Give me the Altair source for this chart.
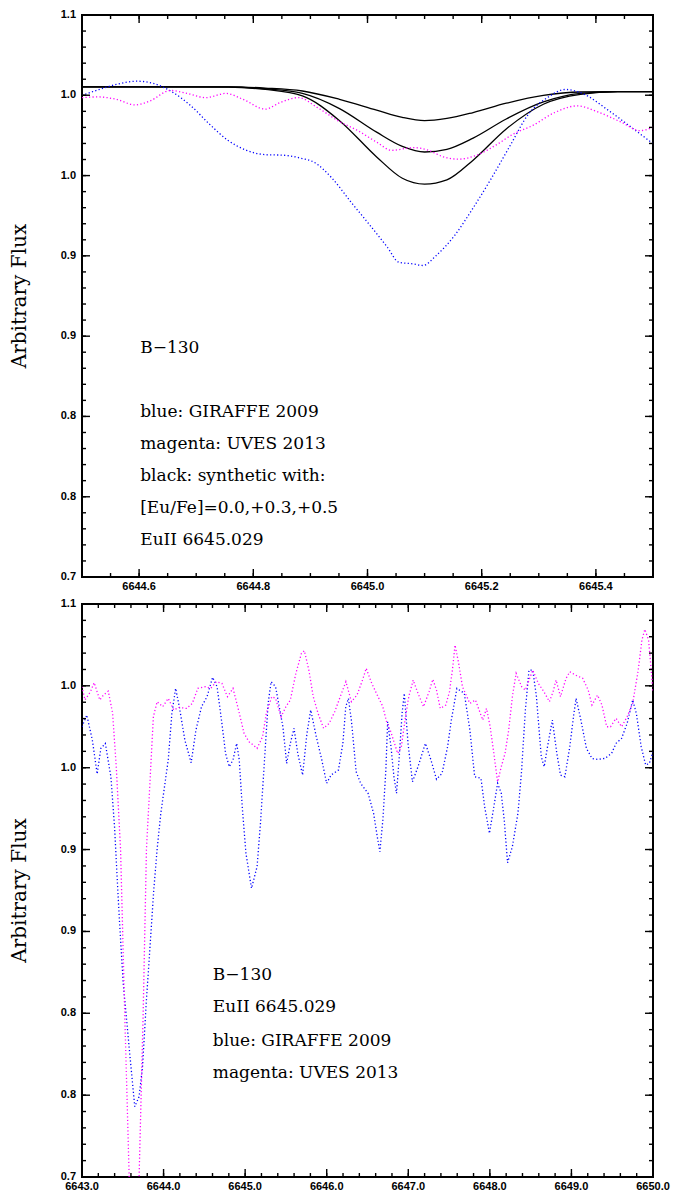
import altair as alt
import pandas as pd

# ---------------- top panel (zoom on Eu II 6645) ----------------
TOP_X_DOMAIN = [6644.5, 6645.5]
TOP_X_MAJOR = [6644.6, 6644.8, 6645.0, 6645.2, 6645.4]
TOP_X_LABELS = ["6644.6", "6644.8", "6645.0", "6645.2", "6645.4"]
TOP_X_MINOR = [round(6644.5 + i * 0.05, 3) for i in range(21)]

TOP_BLUE_W = [6644.500, 6644.534, 6644.560, 6644.596, 6644.625, 6644.658, 6644.691, 6644.723,
              6644.756, 6644.788, 6644.821, 6644.853, 6644.886, 6644.905, 6644.938, 6644.970,
              6645.003, 6645.035, 6645.055, 6645.081, 6645.097, 6645.120, 6645.152, 6645.185,
              6645.217, 6645.250, 6645.282, 6645.315, 6645.347, 6645.380, 6645.419, 6645.458,
              6645.500]
TOP_BLUE_F = [1.0428, 1.0475, 1.0506, 1.0529, 1.0513, 1.0452, 1.0353, 1.0224,
              1.0107, 1.0037, 1.0006, 1.0002, 0.9978, 0.9955, 0.9838, 0.9674,
              0.9510, 0.9346, 0.9240, 0.9228, 0.9217, 0.9287, 0.9428, 0.9627,
              0.9838, 1.0072, 1.0295, 1.0412, 1.0470, 1.0435, 1.0330, 1.0213,
              1.0084]

TOP_MAG_W = [6644.500, 6644.528, 6644.560, 6644.593, 6644.619, 6644.655, 6644.684, 6644.717,
             6644.752, 6644.782, 6644.821, 6644.847, 6644.879, 6644.912, 6644.951, 6644.983,
             6645.016, 6645.042, 6645.081, 6645.107, 6645.133, 6645.159, 6645.191, 6645.224,
             6645.256, 6645.289, 6645.328, 6645.367, 6645.406, 6645.445, 6645.477, 6645.500]
TOP_MAG_F = [1.0412, 1.0417, 1.0400, 1.0360, 1.0388, 1.0463, 1.0442, 1.0412,
             1.0442, 1.0400, 1.0330, 1.0377, 1.0412, 1.0342, 1.0241, 1.0177,
             1.0095, 1.0037, 1.0056, 1.0037, 0.9990, 0.9974, 1.0002, 1.0072,
             1.0154, 1.0213, 1.0306, 1.0353, 1.0306, 1.0236, 1.0177, 1.0201]

SYN_W = [6644.500, 6644.756, 6644.821, 6644.886, 6644.951, 6645.016, 6645.061, 6645.100,
         6645.139, 6645.185, 6645.243, 6645.308, 6645.373, 6645.438, 6645.500]
SYN_00 = [1.0489, 1.0489, 1.0480, 1.0459, 1.0400, 1.0323, 1.0271, 1.0248,
          1.0264, 1.0306, 1.0372, 1.0428, 1.0452, 1.0454, 1.0454]
SYN_03 = [1.0489, 1.0489, 1.0475, 1.0442, 1.0334, 1.0166, 1.0065, 1.0025,
          1.0044, 1.0124, 1.0260, 1.0381, 1.0442, 1.0454, 1.0454]
SYN_05 = [1.0489, 1.0487, 1.0470, 1.0424, 1.0248, 0.9990, 0.9838, 0.9796,
          0.9826, 0.9967, 1.0189, 1.0365, 1.0435, 1.0454, 1.0454]
SYN_NAMES = ["+0.0", "+0.3", "+0.5"]

TOP_NOTES = ["B\u2212130", "blue: GIRAFFE 2009", "magenta: UVES 2013",
             "black: synthetic with:", "[Eu/Fe]=0.0,+0.3,+0.5", "EuII 6645.029"]
TOP_NOTE_Y = [0.8631, 0.8174, 0.7947, 0.7720, 0.7490, 0.7260]
TOP_NOTE_X = 6644.602

# ---------------- bottom panel (wide range) ----------------
BOT_X_DOMAIN = [6643.0, 6650.0]
BOT_X_MAJOR = [6643.0, 6644.0, 6645.0, 6646.0, 6647.0, 6648.0, 6649.0, 6650.0]
BOT_X_LABELS = ["6643.0", "6644.0", "6645.0", "6646.0", "6647.0", "6648.0", "6649.0", "6650.0"]
BOT_X_MINOR = [round(6643.0 + i * 0.2, 2) for i in range(36)]

BOT_BLUE_W = [6643.000, 6643.059, 6643.127, 6643.186, 6643.231, 6643.286, 6643.354, 6643.399,
              6643.456, 6643.505, 6643.566, 6643.619, 6643.647, 6643.700, 6643.742, 6643.790,
              6643.831, 6643.880, 6643.920, 6643.966, 6644.057, 6644.102, 6644.148, 6644.193,
              6644.261, 6644.338, 6644.397, 6644.465, 6644.533, 6644.601, 6644.656, 6644.715,
              6644.760, 6644.805, 6644.851, 6644.896, 6644.928, 6644.964, 6645.010, 6645.078,
              6645.146, 6645.191, 6645.237, 6645.282, 6645.318, 6645.373, 6645.418, 6645.463,
              6645.509, 6645.554, 6645.599, 6645.645, 6645.704, 6645.758, 6645.804, 6645.872,
              6645.940, 6645.999, 6646.053, 6646.144, 6646.198, 6646.234, 6646.266, 6646.302,
              6646.361, 6646.416, 6646.507, 6646.575, 6646.620, 6646.652, 6646.688, 6646.725,
              6646.747, 6646.788, 6646.824, 6646.856, 6646.892, 6646.924, 6646.951, 6646.997,
              6647.051, 6647.119, 6647.210, 6647.278, 6647.346, 6647.414, 6647.482, 6647.528,
              6647.596, 6647.687, 6647.755, 6647.814, 6647.891, 6647.936, 6647.995, 6648.049,
              6648.095, 6648.140, 6648.176, 6648.217, 6648.276, 6648.344, 6648.390, 6648.435,
              6648.480, 6648.526, 6648.571, 6648.630, 6648.666, 6648.707, 6648.766, 6648.821,
              6648.866, 6648.920, 6648.980, 6649.025, 6649.057, 6649.116, 6649.184, 6649.252,
              6649.320, 6649.411, 6649.492, 6649.547, 6649.615, 6649.683, 6649.751, 6649.796,
              6649.855, 6649.910, 6649.955, 6650.000]
BOT_BLUE_F = [1.0143, 1.0225, 1.0050, 0.9813, 0.9992, 1.0027, 0.9794, 0.9445,
              0.8817, 0.8354, 0.7979, 0.7656, 0.7491, 0.7561, 0.7770, 0.8236,
              0.8585, 0.9003, 0.9283, 0.9538, 0.9911, 1.0236, 1.0411, 1.0283,
              1.0050, 0.9892, 1.0120, 1.0283, 1.0353, 1.0488, 1.0423, 1.0167,
              0.9957, 0.9864, 0.9911, 1.0027, 0.9911, 0.9585, 0.9259, 0.9015,
              0.9166, 0.9492, 0.9911, 1.0306, 1.0458, 1.0423, 1.0283, 1.0143,
              0.9887, 1.0027, 1.0132, 0.9957, 0.9806, 1.0097, 1.0260, 1.0074,
              0.9911, 0.9748, 0.9806, 0.9841, 1.0027, 1.0283, 1.0341, 1.0190,
              0.9829, 0.9748, 0.9678, 0.9538, 0.9375, 0.9271, 0.9492, 0.9841,
              1.0178, 1.0004, 0.9794, 0.9678, 0.9957, 1.0236, 1.0376, 1.0027,
              0.9759, 0.9864, 1.0027, 0.9911, 0.9776, 0.9818, 1.0004, 1.0190,
              1.0411, 1.0376, 1.0120, 0.9794, 0.9783, 0.9585, 0.9399, 0.9585,
              0.9748, 0.9678, 0.9492, 0.9194, 0.9306, 0.9538, 0.9841, 1.0260,
              1.0539, 1.0539, 1.0353, 0.9934, 0.9864, 1.0004, 1.0190, 0.9957,
              0.9806, 0.9794, 1.0004, 1.0213, 1.0341, 1.0190, 0.9992, 0.9922,
              0.9915, 0.9922, 0.9957, 1.0027, 1.0062, 1.0167, 1.0330, 1.0236,
              1.0004, 0.9876, 0.9887, 0.9969]

BOT_MAG_W = [6643.000, 6643.036, 6643.104, 6643.149, 6643.218, 6643.263, 6643.322, 6643.376,
             6643.422, 6643.473, 6643.525, 6643.578, 6643.640, 6643.700, 6643.749, 6643.790,
             6643.830, 6643.875, 6643.921, 6643.989, 6644.057, 6644.125, 6644.193, 6644.284,
             6644.352, 6644.420, 6644.511, 6644.579, 6644.647, 6644.715, 6644.783, 6644.851,
             6644.919, 6644.987, 6645.046, 6645.100, 6645.146, 6645.214, 6645.259, 6645.327,
             6645.373, 6645.441, 6645.500, 6645.554, 6645.622, 6645.690, 6645.726, 6645.781,
             6645.835, 6645.894, 6645.962, 6646.030, 6646.098, 6646.166, 6646.235, 6646.303,
             6646.371, 6646.439, 6646.484, 6646.552, 6646.620, 6646.688, 6646.734, 6646.779,
             6646.824, 6646.870, 6646.915, 6646.960, 6647.006, 6647.060, 6647.119, 6647.187,
             6647.255, 6647.301, 6647.346, 6647.392, 6647.460, 6647.505, 6647.541, 6647.573,
             6647.618, 6647.664, 6647.709, 6647.755, 6647.823, 6647.868, 6647.913, 6647.959,
             6648.004, 6648.049, 6648.095, 6648.140, 6648.186, 6648.231, 6648.276, 6648.322,
             6648.390, 6648.435, 6648.480, 6648.526, 6648.594, 6648.662, 6648.730, 6648.775,
             6648.812, 6648.866, 6648.934, 6648.980, 6649.048, 6649.138, 6649.206, 6649.252,
             6649.320, 6649.374, 6649.433, 6649.479, 6649.547, 6649.615, 6649.683, 6649.751,
             6649.819, 6649.864, 6649.900, 6649.946, 6649.978, 6650.000]
BOT_MAG_F = [1.0423, 1.0330, 1.0388, 1.0451, 1.0330, 1.0364, 1.0392, 1.0236,
             0.9841, 0.9283, 0.8119, 0.7002, 0.5700, 0.7000, 0.8119, 0.9283,
             0.9725, 1.0213, 1.0318, 1.0283, 1.0341, 1.0260, 1.0278, 1.0271,
             1.0306, 1.0411, 1.0423, 1.0411, 1.0458, 1.0446, 1.0353, 1.0411,
             1.0260, 1.0097, 1.0039, 1.0015, 0.9992, 1.0074, 1.0236, 1.0353,
             1.0341, 1.0213, 1.0283, 1.0330, 1.0516, 1.0655, 1.0674, 1.0539,
             1.0353, 1.0236, 1.0132, 1.0167, 1.0248, 1.0353, 1.0458, 1.0318,
             1.0364, 1.0469, 1.0551, 1.0446, 1.0364, 1.0283, 1.0178, 1.0120,
             1.0039, 0.9957, 1.0004, 1.0190, 1.0353, 1.0469, 1.0376, 1.0283,
             1.0388, 1.0474, 1.0399, 1.0271, 1.0295, 1.0388, 1.0539, 1.0713,
             1.0585, 1.0423, 1.0364, 1.0306, 1.0330, 1.0260, 1.0190, 1.0271,
             1.0143, 0.9957, 0.9759, 0.9864, 0.9957, 1.0120, 1.0353, 1.0516,
             1.0423, 1.0399, 1.0469, 1.0539, 1.0446, 1.0388, 1.0318, 1.0388,
             1.0469, 1.0353, 1.0481, 1.0527, 1.0504, 1.0481, 1.0399, 1.0295,
             1.0364, 1.0295, 1.0143, 1.0143, 1.0202, 1.0143, 1.0213, 1.0306,
             1.0539, 1.0748, 1.0823, 1.0748, 1.0539, 1.0380]

BOT_NOTES = ["B\u2212130", "EuII 6645.029", "blue: GIRAFFE 2009", "magenta: UVES 2013"]
BOT_NOTE_Y = [0.8410, 0.8185, 0.7952, 0.7728]
BOT_NOTE_X = 6644.604

# ---------------- shared y axis ----------------
Y_DOMAIN = [0.7, 1.1]
Y_MAJOR = [0.7, 0.7571, 0.8143, 0.8714, 0.9286, 0.9857, 1.0429, 1.1]
Y_LABELS = ["0.7", "0.8", "0.8", "0.9", "0.9", "1.0", "1.0", "1.1"]
Y_MINOR = [round(0.7 + i * 0.4 / 35, 5) for i in range(36)]
Y_TITLE = "Arbitrary Flux"

LABEL_FONT = "Liberation Sans"
SERIF = "DejaVu Serif"
MAJOR = 8
MINOR = 4
BLUE = "#0000ff"
MAGENTA = "#ff00ff"
DOTS = [1.2, 2.3]
TICK_W = 1.4
PANEL_W = 571
TOP_H = 562
BOT_H = 573


def enc(dom, xf="w", yf="f"):
    return dict(x=alt.X(f"{xf}:Q", scale=alt.Scale(domain=dom, nice=False, zero=False), axis=None),
                y=alt.Y(f"{yf}:Q", scale=alt.Scale(domain=Y_DOMAIN, nice=False, zero=False),
                        axis=None))


def tick_layers(dom, x_major, x_minor):
    """Inward frame ticks; position along each edge comes from the shared scale."""
    layers = []
    for vals, size in [(x_major, MAJOR), (x_minor, MINOR)]:
        for edge, off in [(Y_DOMAIN[0], -size), (Y_DOMAIN[1], size)]:
            df = pd.DataFrame({"v": vals, "e": [edge] * len(vals)})
            layers.append(alt.Chart(df).mark_rule(color="black", strokeWidth=TICK_W,
                                                  y2Offset=off).encode(
                y2="e:Q", **enc(dom, "v", "e")))
    for vals, size in [(Y_MAJOR, MAJOR), (Y_MINOR, MINOR)]:
        for edge, off in [(dom[0], size), (dom[1], -size)]:
            df = pd.DataFrame({"v": vals, "e": [edge] * len(vals)})
            layers.append(alt.Chart(df).mark_rule(color="black", strokeWidth=TICK_W,
                                                  x2Offset=off).encode(
                x2="e:Q", **enc(dom, "e", "v")))
    return layers


def label_layers(dom, x_major, x_labels):
    """Tick labels and the y title, placed through the same scales."""
    dfx = pd.DataFrame({"w": x_major, "f": [Y_DOMAIN[0]] * len(x_major), "t": x_labels})
    dfy = pd.DataFrame({"w": [dom[0]] * len(Y_MAJOR), "f": Y_MAJOR, "t": Y_LABELS})
    dft = pd.DataFrame({"w": [dom[0]], "f": [(Y_DOMAIN[0] + Y_DOMAIN[1]) / 2], "t": [Y_TITLE]})
    xl = alt.Chart(dfx).mark_text(align="center", baseline="top", dy=4, font=LABEL_FONT,
                                  fontSize=11, fontWeight="bold", color="black").encode(
        text="t:N", **enc(dom))
    yl = alt.Chart(dfy).mark_text(align="right", baseline="middle", dx=-6, font=LABEL_FONT,
                                  fontSize=11, fontWeight="bold", color="black").encode(
        text="t:N", **enc(dom))
    # rotated title: with angle 270 the local y offset points to the right on the page
    tl = alt.Chart(dft).mark_text(align="center", baseline="middle", dy=-62, angle=270,
                                  font=SERIF, fontSize=20, color="black").encode(
        text="t:N", **enc(dom))
    return [xl, yl, tl]


def text_layer(df, dom):
    return alt.Chart(df).mark_text(align="left", baseline="middle", font=SERIF, fontSize=17,
                                   color="black").encode(text="t:N", **enc(dom))


# ---- top panel
df_tb = pd.DataFrame({"w": TOP_BLUE_W, "f": TOP_BLUE_F})
df_tm = pd.DataFrame({"w": TOP_MAG_W, "f": TOP_MAG_F})
syn_rows = []
for name, vals in zip(SYN_NAMES, [SYN_00, SYN_03, SYN_05]):
    for w, f in zip(SYN_W, vals):
        syn_rows.append({"w": w, "f": f, "s": name})
df_syn = pd.DataFrame(syn_rows)
df_tn = pd.DataFrame({"w": [TOP_NOTE_X] * len(TOP_NOTES), "f": TOP_NOTE_Y, "t": TOP_NOTES})

t_syn = alt.Chart(df_syn).mark_line(color="black", strokeWidth=1.3, clip=True,
                                    interpolate="monotone").encode(
    detail="s:N", **enc(TOP_X_DOMAIN))
t_blue = alt.Chart(df_tb).mark_line(color=BLUE, strokeDash=DOTS, strokeWidth=1.3, clip=True,
                                    interpolate="monotone").encode(**enc(TOP_X_DOMAIN))
t_mag = alt.Chart(df_tm).mark_line(color=MAGENTA, strokeDash=DOTS, strokeWidth=1.3, clip=True,
                                   interpolate="monotone").encode(**enc(TOP_X_DOMAIN))
t_txt = text_layer(df_tn, TOP_X_DOMAIN)

top = alt.layer(t_syn, t_blue, t_mag, t_txt,
                *label_layers(TOP_X_DOMAIN, TOP_X_MAJOR, TOP_X_LABELS),
                *tick_layers(TOP_X_DOMAIN, TOP_X_MAJOR, TOP_X_MINOR)).properties(
    width=PANEL_W, height=TOP_H)

# ---- bottom panel
df_bb = pd.DataFrame({"w": BOT_BLUE_W, "f": BOT_BLUE_F})
df_bm = pd.DataFrame({"w": BOT_MAG_W, "f": BOT_MAG_F})
df_bn = pd.DataFrame({"w": [BOT_NOTE_X] * len(BOT_NOTES), "f": BOT_NOTE_Y, "t": BOT_NOTES})

b_blue = alt.Chart(df_bb).mark_line(color=BLUE, strokeDash=DOTS, strokeWidth=1.3,
                                    clip=True).encode(**enc(BOT_X_DOMAIN))
b_mag = alt.Chart(df_bm).mark_line(color=MAGENTA, strokeDash=DOTS, strokeWidth=1.3,
                                   clip=True).encode(**enc(BOT_X_DOMAIN))
b_txt = text_layer(df_bn, BOT_X_DOMAIN)

bottom = alt.layer(b_blue, b_mag, b_txt,
                   *label_layers(BOT_X_DOMAIN, BOT_X_MAJOR, BOT_X_LABELS),
                   *tick_layers(BOT_X_DOMAIN, BOT_X_MAJOR, BOT_X_MINOR)).properties(
    width=PANEL_W, height=BOT_H)

chart = alt.vconcat(top, bottom, spacing=27, bounds="flush").properties(
    padding={"left": 1, "top": 0, "right": 5, "bottom": 0},
    background="white",
).configure_view(stroke="black", strokeWidth=2)

chart.save("out.html", embed_options={"renderer": "svg", "actions": False})
